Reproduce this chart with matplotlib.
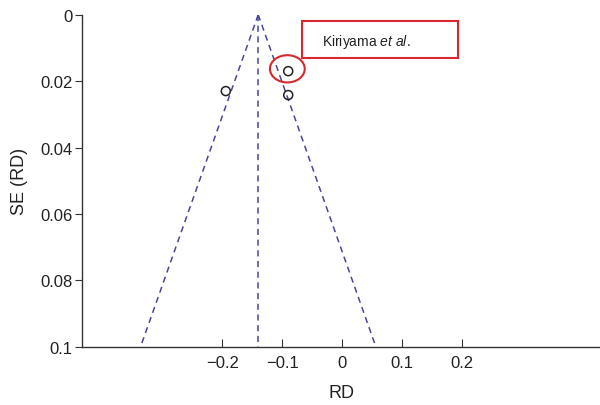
import matplotlib
matplotlib.use("Agg")
import matplotlib.pyplot as plt
from matplotlib.patches import Ellipse, Rectangle
import numpy as np

plt.rcParams['font.family'] = ['Liberation Sans', 'DejaVu Sans']
plt.rcParams['mathtext.fontset'] = 'custom'
plt.rcParams['mathtext.rm'] = 'Liberation Sans'
plt.rcParams['mathtext.it'] = 'Liberation Sans:italic'

# Study estimates: risk difference and its standard error
rd = [-0.194, -0.090, -0.090]
se = [0.0230, 0.0170, 0.0242]
pooled_rd = -0.14
se_max = 0.1

x_ticks = [-0.2, -0.1, 0, 0.1, 0.2]
x_tick_labels = ['\u22120.2', '\u22120.1', '0', '0.1', '0.2']
y_ticks = [0, 0.02, 0.04, 0.06, 0.08, 0.1]
y_tick_labels = ['0', '0.02', '0.04', '0.06', '0.08', '0.1']

fig = plt.figure(figsize=(6.0, 4.06), dpi=100)
ax = fig.add_axes([0.137, 0.1436, 0.863, 0.8177])

line_col = '#47469b'
# pseudo 95% confidence limits
se_line = np.array([0.0, se_max])
ax.plot(pooled_rd - 1.96 * se_line, se_line, ls=(0, (4, 3)), color=line_col, lw=1.1)
ax.plot(pooled_rd + 1.96 * se_line, se_line, ls=(0, (4, 3)), color=line_col, lw=1.1)
ax.plot([pooled_rd, pooled_rd], [0, se_max], ls=(0, (4, 3)), color=line_col, lw=1.1)

ax.scatter(rd, se, s=42, facecolors='none', edgecolors='#222222', linewidths=1.1, zorder=3)

# highlight Kiriyama et al.
ax.add_patch(Ellipse((rd[1] - 0.0015, se[1] - 0.0007), width=0.058, height=0.0082, fill=False,
                     edgecolor='#d8282e', lw=1.5, zorder=4))
ax.add_patch(Rectangle((-0.0677, 0.0019), 0.26, 0.0112, fill=False,
                       edgecolor='#d8282e', lw=1.5, zorder=4))
ax.text(-0.034, 0.0080, 'Kiriyama $\\mathit{et\\ al.}$', fontsize=10,
        va='center', ha='left', color='#222222')

ax.set_xlim(-0.4333, 0.4295)
ax.set_ylim(0.1, 0)
ax.set_xticks(x_ticks)
ax.set_xticklabels(x_tick_labels)
ax.set_yticks(y_ticks)
ax.set_yticklabels(y_tick_labels)

for s in ['top', 'right']:
    ax.spines[s].set_visible(False)
for s in ['left', 'bottom']:
    ax.spines[s].set_color('#333333')
    ax.spines[s].set_linewidth(1.0)

ax.tick_params(axis='x', direction='in', length=6, colors='#333333', labelsize=12,
               labelcolor='#222222', pad=6)
ax.tick_params(axis='y', direction='out', length=5, colors='#333333', labelsize=12,
               labelcolor='#222222', pad=2)

ax.set_xlabel('RD', fontsize=13, color='#222222', labelpad=10)
ax.set_ylabel('SE (RD)', fontsize=13, color='#222222', labelpad=9)

fig.savefig('out.png', dpi=100)
